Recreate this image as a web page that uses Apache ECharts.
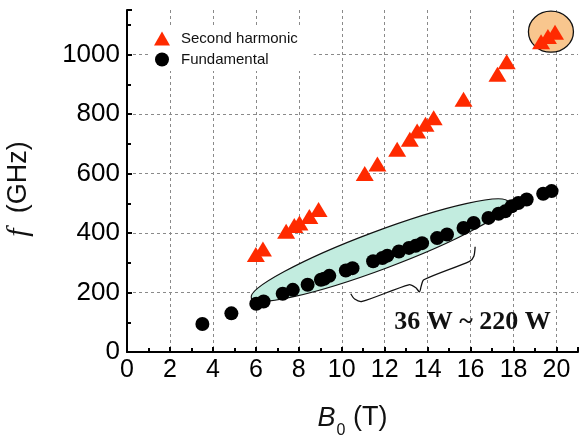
<html lang="en">
<head>
    <meta charset="UTF-8">
    <title>f vs B0</title>
    <script src="https://cdn.jsdelivr.net/npm/echarts@6/dist/echarts.min.js"></script>
</head>
<body style="margin:0">
    <div id="main" style="width:584px;height:437px;"></div>
    <script type="text/javascript">
        // second harmonic (triangles)
        var harmonicB = [6.0, 6.33, 7.41, 7.79, 8.03, 8.49, 8.92, 11.07, 11.66, 12.58, 13.17, 13.51, 13.9, 14.28, 15.67, 17.25, 17.68, 19.28, 19.6, 19.93];
        var harmonicF = [328, 346, 406, 425, 434, 456, 479, 600, 632, 682, 715, 743, 766, 788, 850, 934, 976, 1043, 1061, 1075];
        // fundamental (circles)
        var fundB = [3.51, 4.86, 6.02, 6.36, 7.25, 7.72, 8.41, 9.03, 9.18, 9.42, 10.19, 10.5, 11.46, 11.89, 12.12, 12.66, 13.13, 13.44, 13.74, 14.44, 14.9, 15.67, 16.14, 16.83, 17.3, 17.61, 17.91, 18.22, 18.61, 19.38, 19.77];
        var fundF = [94, 130, 162, 170, 196, 209, 226, 243, 246, 256, 274, 282, 305, 316, 324, 338, 350, 357, 366, 383, 395, 417, 434, 451, 465, 473, 490, 501, 513, 532, 541];

        var xTicks = [0, 21, 2];      // min, max, interval
        var yTicks = [0, 1150, 200];

        function pairs(a, b) {
            var out = [];
            for (var i = 0; i < a.length; i++) out.push([a[i], b[i]]);
            return out;
        }

        var chart = echarts.init(document.getElementById('main'));
        var gridLine = { show: true, showMaxLine: false, lineStyle: { color: '#8a8a8a', type: [3, 3], width: 1 } };
        option = {
            backgroundColor: '#fff',
            animation: false,
            grid: { left: 127, right: 6, top: 10, bottom: 85, containLabel: false, outerBoundsMode: 'none' },
            legend: {
                orient: 'vertical',
                left: 150, top: 27,
                padding: [4, 16, 4, 4],
                backgroundColor: '#fff',
                itemWidth: 16, itemHeight: 14, itemGap: 6,
                textStyle: { fontFamily: 'Liberation Sans', fontSize: 15, color: '#111', padding: [0, 0, 0, 6] },
                data: ['Second harmonic', 'Fundamental']
            },
            xAxis: {
                type: 'value',
                min: xTicks[0], max: xTicks[1], interval: xTicks[2],
                name: '{i|B}{sub|0} (T)',
                nameLocation: 'middle', nameGap: 45,
                nameTextStyle: {
                    fontFamily: 'Liberation Sans', fontSize: 27, color: '#111',
                    rich: {
                        i: { fontFamily: 'Liberation Sans', fontStyle: 'italic', fontSize: 27, color: '#111' },
                        sub: { fontFamily: 'Liberation Sans', fontSize: 16, color: '#111', padding: [26, 0, 0, 1] }
                    }
                },
                axisLine: { lineStyle: { color: '#000', width: 2 } },
                axisTick: { inside: true, length: 5, lineStyle: { color: '#000', width: 2 } },
                minorTick: { show: true, splitNumber: 2, length: 4, lineStyle: { color: '#000', width: 2 } },
                axisLabel: { showMaxLabel: false, fontFamily: 'Liberation Sans', fontSize: 25, color: '#000', margin: 6 },
                splitLine: gridLine
            },
            yAxis: {
                type: 'value',
                min: yTicks[0], max: yTicks[1], interval: yTicks[2],
                name: '{i|f}  (GHz){p|}',
                nameLocation: 'middle', nameGap: 93,
                nameTextStyle: {
                    fontFamily: 'Liberation Sans', fontSize: 27, color: '#111',
                    rich: {
                        i: { fontFamily: 'Liberation Serif', fontStyle: 'italic', fontSize: 30, color: '#111' },
                        p: { width: 16 }
                    }
                },
                axisLine: { show: true, lineStyle: { color: '#000', width: 2 } },
                axisTick: { inside: true, length: 5, lineStyle: { color: '#000', width: 2 } },
                minorTick: { show: true, splitNumber: 2, length: 4, lineStyle: { color: '#000', width: 2 } },
                axisLabel: {
                    showMaxLabel: false, fontFamily: 'Liberation Sans', fontSize: 26, color: '#000', margin: 7,
                    formatter: function (v) { return String(v); }
                },
                splitLine: gridLine
            },
            series: [{
                name: 'Second harmonic',
                type: 'scatter',
                symbol: 'triangle',
                symbolSize: [18, 15],
                itemStyle: { color: '#ff2a00', opacity: 1 },
                z: 3,
                data: pairs(harmonicB, harmonicF)
            }, {
                name: 'Fundamental',
                type: 'scatter',
                symbol: 'circle',
                symbolSize: 14,
                itemStyle: { color: '#000', opacity: 1 },
                z: 3,
                data: pairs(fundB, fundF)
            }]
        };
        chart.setOption(option);

        // annotations placed in data coordinates
        function px(p) { return chart.convertToPixel({ gridIndex: 0 }, p); }
        var tipA = px([5.79, 181]), tipB = px([17.76, 504]);
        var cx = (tipA[0] + tipB[0]) / 2, cy = (tipA[1] + tipB[1]) / 2;
        var dx = tipB[0] - tipA[0], dy = tipA[1] - tipB[1];
        var orange = px([19.74, 1077]);
        var brace = [[10.42, 196], [10.6, 178], [10.95, 170], [13.12, 226], [13.45, 216], [13.62, 202],
                     [13.7, 222], [13.82, 243], [15.95, 305], [16.15, 322], [16.21, 354]].map(px);
        var label = px([16.09, 101]);
        chart.setOption({
            graphic: [{
                type: 'ellipse', z: 1,
                x: cx, y: cy, rotation: Math.atan2(dy, dx),
                shape: { cx: 0, cy: 0, rx: Math.sqrt(dx * dx + dy * dy) / 2, ry: 19 },
                style: { fill: '#c2ecdf', stroke: '#111', lineWidth: 1.2 }
            }, {
                type: 'ellipse', z: 1,
                shape: { cx: orange[0], cy: orange[1], rx: 22.5, ry: 20.5 },
                style: { fill: '#f8c68e', stroke: '#111', lineWidth: 1.3 }
            }, {
                type: 'polyline', z: 4,
                shape: { points: brace, smooth: 0.25 },
                style: { stroke: '#111', lineWidth: 1.3, fill: null }
            }, {
                type: 'text', z: 4,
                x: label[0], y: label[1],
                style: {
                    text: '36 W ~ 220 W', fill: '#111',
                    font: 'bold 26px "Liberation Serif"',
                    align: 'center', verticalAlign: 'middle'
                }
            }]
        });
    </script>
</body>
</html>
